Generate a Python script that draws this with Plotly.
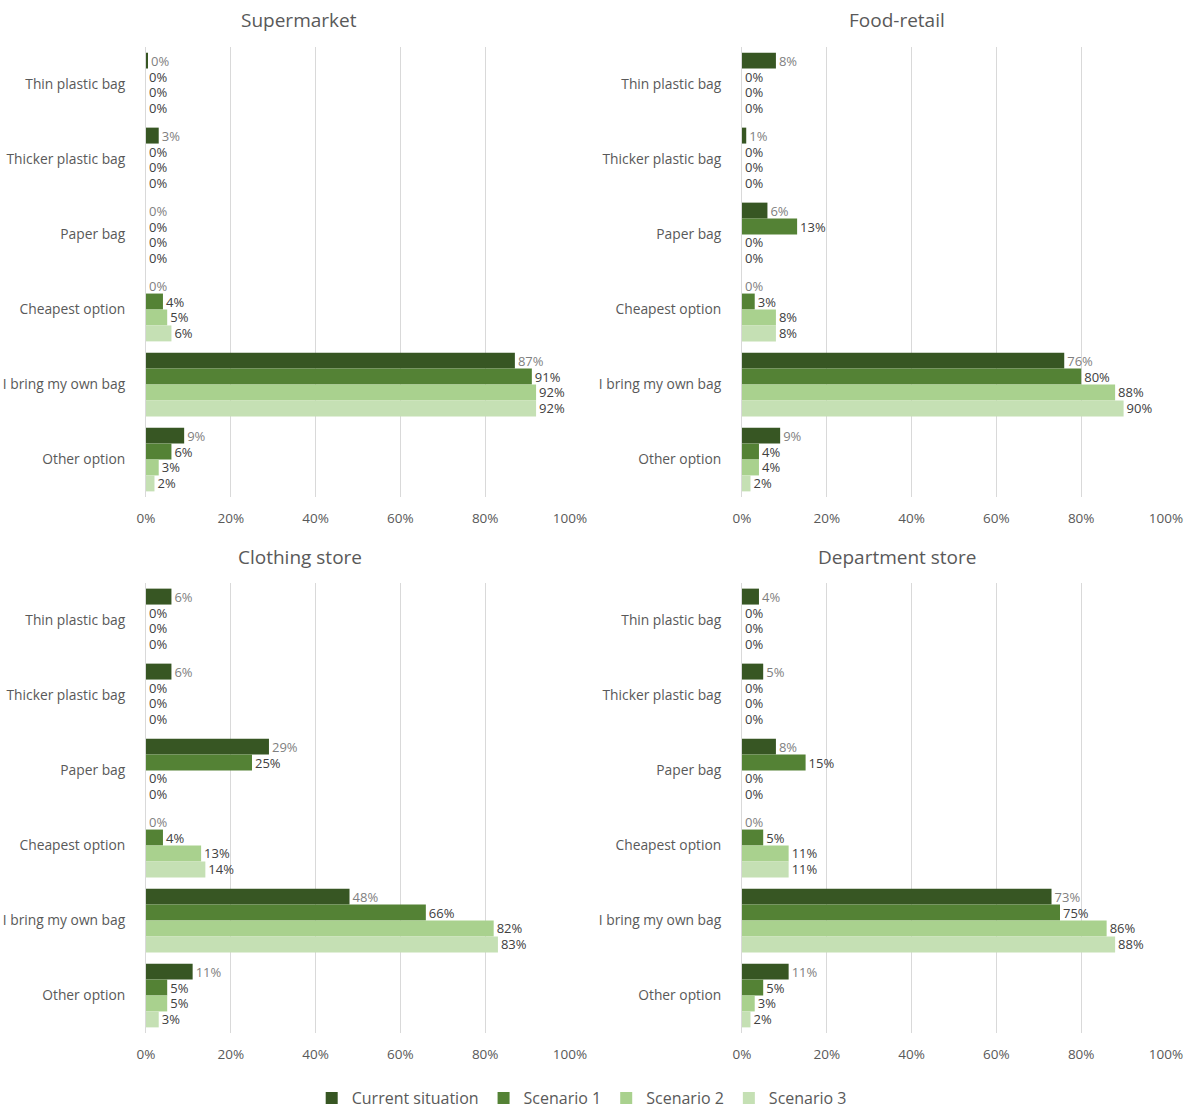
import plotly.graph_objects as go

categories = ["Thin plastic bag", "Thicker plastic bag", "Paper bag",
              "Cheapest option", "I bring my own bag", "Other option"]
series_names = ["Current situation", "Scenario 1", "Scenario 2", "Scenario 3"]

# Share of respondents (%) per store type, one list per series
supermarket_current = [0.3, 3, 0, 0, 87, 9]
supermarket_s1 = [0, 0, 0, 4, 91, 6]
supermarket_s2 = [0, 0, 0, 5, 92, 3]
supermarket_s3 = [0, 0, 0, 6, 92, 2]

food_current = [8, 1, 6, 0, 76, 9]
food_s1 = [0, 0, 13, 3, 80, 4]
food_s2 = [0, 0, 0, 8, 88, 4]
food_s3 = [0, 0, 0, 8, 90, 2]

clothing_current = [6, 6, 29, 0, 48, 11]
clothing_s1 = [0, 0, 25, 4, 66, 5]
clothing_s2 = [0, 0, 0, 13, 82, 5]
clothing_s3 = [0, 0, 0, 14, 83, 3]

department_current = [4, 5, 8, 0, 73, 11]
department_s1 = [0, 0, 15, 5, 75, 5]
department_s2 = [0, 0, 0, 11, 86, 3]
department_s3 = [0, 0, 0, 11, 88, 2]

panel_titles = ["Supermarket", "Food-retail", "Clothing store", "Department store"]
x_ticks = [0, 20, 40, 60, 80, 100]
x_tick_labels = ["0%", "20%", "40%", "60%", "80%", "100%"]

panels = [
    [supermarket_current, supermarket_s1, supermarket_s2, supermarket_s3],
    [food_current, food_s1, food_s2, food_s3],
    [clothing_current, clothing_s1, clothing_s2, clothing_s3],
    [department_current, department_s1, department_s2, department_s3],
]

colors = ["#375623", "#548235", "#A9D18E", "#C5E0B4"]
label_colors = ["#7f7f7f", "#404040", "#404040", "#404040"]
FONT = "Open Sans"
W, H = 1192, 1115

fig = go.Figure()

# pixel layout of the four plot areas
x_domains = [[146 / W, 570 / W], [742 / W, 1166 / W]]
y_domains = [[1 - 497 / H, 1 - 47 / H], [1 - 1033 / H, 1 - 583 / H]]

for p, series in enumerate(panels):
    ax = "" if p == 0 else str(p + 1)
    for s, vals in enumerate(series):
        fig.add_trace(go.Bar(
            x=vals, y=categories, orientation="h",
            name=series_names[s],
            marker=dict(color=colors[s], line=dict(width=0)),
            texttemplate="%{x:.0f}%", textposition="outside",
            constraintext="none", cliponaxis=False,
            textfont=dict(family=FONT, size=13, color=label_colors[s]),
            showlegend=(p == 0),
            xaxis="x" + ax, yaxis="y" + ax,
            hoverinfo="skip",
        ))

layout = dict(
    width=W, height=H,
    margin=dict(l=0, r=0, t=0, b=0, autoexpand=False),
    paper_bgcolor="white", plot_bgcolor="white",
    barmode="group", bargap=0.15, bargroupgap=0,
    font=dict(family=FONT, color="#595959"),
    legend=dict(orientation="h", x=0.488, xanchor="center", y=0, yanchor="bottom",
                font=dict(family=FONT, size=16, color="#595959"),
                traceorder="normal", itemwidth=30),
    annotations=[],
)

title_pos = [(299, 20), (897, 20), (300, 557), (897, 557)]
for p in range(4):
    ax = "" if p == 0 else str(p + 1)
    col, row = p % 2, p // 2
    layout["xaxis" + ax] = dict(
        domain=x_domains[col], anchor="y" + ax, range=[0, 100],
        tickmode="array", tickvals=x_ticks, ticktext=x_tick_labels,
        showgrid=True, gridcolor="#d9d9d9",
        gridwidth=1, zeroline=False, showline=False, ticks="",
        ticklabelstandoff=11, automargin=False,
        tickfont=dict(family=FONT, size=13.5, color="#595959"),
        fixedrange=True,
    )
    layout["yaxis" + ax] = dict(
        domain=y_domains[row], anchor="x" + ax, autorange="reversed",
        showline=True, linecolor="#d9d9d9", linewidth=1, ticks="",
        ticklabelstandoff=17, automargin=False,
        tickfont=dict(family=FONT, size=13.8, color="#595959"),
        fixedrange=True,
    )
    tx, ty = title_pos[p]
    layout["annotations"].append(dict(
        text=panel_titles[p], x=tx / W, y=1 - ty / H, xref="paper", yref="paper",
        xanchor="center", yanchor="middle", showarrow=False,
        font=dict(family=FONT, size=19, color="#595959"),
    ))

fig.update_layout(**layout)
fig.write_html("out.html")
